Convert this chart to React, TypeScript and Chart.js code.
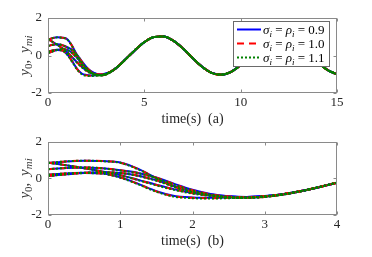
import React, { useEffect, useRef } from 'react';
import { Chart, registerables } from 'chart.js';
Chart.register(...registerables);

// ---------- data ----------
const timeS = [0, 0.25, 0.5, 0.75, 1, 1.25, 1.5, 1.75, 2, 2.25, 2.5, 2.75, 3, 3.25, 3.5, 3.75, 4,
  4.5, 5, 5.5, 6, 6.5, 7, 7.5, 8, 8.5, 9, 9.5, 10, 10.5, 11, 11.5, 12, 12.5, 13, 13.5, 14, 14.5, 15];

// converged part (t = 4.5 ... 15), shared by all agents
const tailValues = [0.27, 0.71, 0.98, 1.01, 0.79, 0.38, -0.13, -0.6, -0.93, -1.02, -0.87, -0.51,
  -0.02, 0.48, 0.86, 1.03, 0.94, 0.63, 0.16, -0.35, -0.77, -1.0];

// transient part (t = 0 ... 4), sigma_i = rho_i = 0.9
const ySigma09 = [
  [0.86, 0.72, 0.56, 0.38, 0.18, -0.08, -0.35, -0.6, -0.8, -0.93, -1.0, -1.02, -0.97, -0.86, -0.69, -0.47, -0.23],
  [0.84, 0.93, 0.97, 0.95, 0.87, 0.52, 0.02, -0.44, -0.72, -0.9, -1.01, -1.05, -1.0, -0.88, -0.7, -0.48, -0.23],
  [0.5, 0.57, 0.6, 0.55, 0.44, 0.3, 0.05, -0.3, -0.62, -0.85, -0.97, -1.02, -0.98, -0.87, -0.7, -0.48, -0.23],
  [0.2, 0.27, 0.31, 0.33, 0.3, 0.15, -0.1, -0.42, -0.7, -0.88, -0.98, -1.02, -0.98, -0.87, -0.7, -0.48, -0.23],
  [0.13, 0.22, 0.29, 0.27, 0.06, -0.3, -0.7, -0.96, -1.04, -1.06, -1.05, -1.02, -0.96, -0.86, -0.69, -0.48, -0.23],
];
// sigma_i = rho_i = 1.0
const ySigma10 = [
  [0.86, 0.72, 0.56, 0.38, 0.18, -0.09, -0.36, -0.61, -0.81, -0.94, -1.01, -1.03, -0.98, -0.86, -0.69, -0.47, -0.23],
  [0.84, 0.93, 0.97, 0.95, 0.86, 0.51, 0.01, -0.45, -0.74, -0.92, -1.03, -1.06, -1.01, -0.88, -0.7, -0.48, -0.23],
  [0.5, 0.57, 0.6, 0.55, 0.44, 0.29, 0.04, -0.32, -0.64, -0.87, -0.99, -1.03, -0.99, -0.87, -0.7, -0.48, -0.23],
  [0.2, 0.27, 0.31, 0.33, 0.3, 0.14, -0.11, -0.44, -0.72, -0.9, -1.0, -1.03, -0.99, -0.87, -0.7, -0.48, -0.23],
  [0.13, 0.22, 0.29, 0.27, 0.05, -0.31, -0.71, -0.98, -1.06, -1.08, -1.06, -1.03, -0.97, -0.86, -0.69, -0.48, -0.23],
];
// sigma_i = rho_i = 1.1
const ySigma11 = [
  [0.86, 0.72, 0.56, 0.37, 0.17, -0.1, -0.38, -0.63, -0.83, -0.96, -1.03, -1.04, -0.98, -0.86, -0.69, -0.47, -0.23],
  [0.84, 0.93, 0.97, 0.94, 0.85, 0.49, -0.01, -0.47, -0.76, -0.94, -1.05, -1.07, -1.02, -0.89, -0.7, -0.48, -0.23],
  [0.5, 0.57, 0.6, 0.55, 0.43, 0.28, 0.02, -0.34, -0.66, -0.89, -1.01, -1.05, -1.0, -0.88, -0.7, -0.48, -0.23],
  [0.2, 0.27, 0.31, 0.33, 0.29, 0.13, -0.13, -0.46, -0.74, -0.92, -1.02, -1.05, -1.0, -0.88, -0.7, -0.48, -0.23],
  [0.13, 0.22, 0.29, 0.26, 0.04, -0.33, -0.73, -1.0, -1.08, -1.1, -1.08, -1.05, -0.98, -0.87, -0.69, -0.48, -0.23],
];

const gainLabels = ['0.9', '1.0', '1.1'];
const yTicks = [-2, 0, 2];

// ---------- styling ----------
const SERIF = '"Liberation Serif", "Times New Roman", serif';
const W = 372;
const PLOT_L = 48;
const PLOT_R = 337;
const TXT = '#262626';
const FRAME = '#8a8a8a';

type Run = { t: string; font: string; dy?: number; gap?: number };

function runsWidth(ctx: CanvasRenderingContext2D, runs: Run[]) {
  let w = 0;
  for (const r of runs) {
    ctx.font = r.font;
    w += ctx.measureText(r.t).width + (r.gap || 0);
  }
  return w;
}
function drawRuns(ctx: CanvasRenderingContext2D, runs: Run[], x: number, y: number) {
  let cx = x;
  for (const r of runs) {
    ctx.font = r.font;
    ctx.fillText(r.t, cx, y + (r.dy || 0));
    cx += ctx.measureText(r.t).width + (r.gap || 0);
  }
}

const seriesStyles = [
  { rows: ySigma09, color: '#0000FF', dash: [] as number[], order: 3 },
  { rows: ySigma10, color: '#FF0000', dash: [7, 5], order: 2 },
  { rows: ySigma11, color: '#008000', dash: [2, 2], order: 1 },
];

type Opts = { xMax: number; xStep: number; title: string; legend: boolean; h: number; top: number; bottom: number };

function makeChart(canvas: HTMLCanvasElement, o: Opts) {
  const datasets: any[] = [];
  seriesStyles.forEach((s, gi) => {
    s.rows.forEach((row, ri) => {
      datasets.push({
        label: 'sigma=' + gainLabels[gi] + ' agent ' + ri,
        data: timeS.map((t, i) => ({ x: t, y: i < row.length ? row[i] : tailValues[i - row.length] })),
        borderColor: s.color,
        borderDash: s.dash,
        borderWidth: 2,
        pointRadius: 0,
        fill: false,
        cubicInterpolationMode: 'monotone',
        order: s.order,
      });
    });
  });

  const deco = {
    id: 'deco',
    afterDraw(chart: any) {
      const ctx: CanvasRenderingContext2D = chart.ctx;
      const ca = chart.chartArea;
      const xs = chart.scales.x;
      const ys = chart.scales.y;
      ctx.save();
      const L = Math.round(ca.left) + 0.5;
      const R = Math.round(ca.right) - 0.5;
      const T = Math.round(ca.top) + 0.5;
      const B = Math.round(ca.bottom) - 0.5;
      ctx.strokeStyle = FRAME;
      ctx.lineWidth = 1;
      ctx.setLineDash([]);
      ctx.beginPath();
      xs.ticks.forEach((tk: any) => {
        const px = Math.round(xs.getPixelForValue(tk.value)) + 0.5;
        ctx.moveTo(px, B); ctx.lineTo(px, B - 3);
        ctx.moveTo(px, T); ctx.lineTo(px, T + 3);
      });
      ys.ticks.forEach((tk: any) => {
        const py = Math.round(ys.getPixelForValue(tk.value)) + 0.5;
        ctx.moveTo(L, py); ctx.lineTo(L + 3, py);
        ctx.moveTo(R, py); ctx.lineTo(R - 3, py);
      });
      ctx.stroke();
      ctx.strokeRect(L, T, R - L, B - T);

      // x title
      ctx.fillStyle = TXT;
      ctx.font = '14px ' + SERIF;
      ctx.textAlign = 'center';
      ctx.textBaseline = 'middle';
      ctx.fillText(o.title, (ca.left + ca.right) / 2, ca.bottom + 26);

      // y title: y_0, y_mi
      const yRuns: Run[] = [
        { t: 'y', font: 'italic 15px ' + SERIF },
        { t: '0', font: '11px ' + SERIF, dy: 3 },
        { t: ', ', font: '15px ' + SERIF, gap: 3 },
        { t: 'y', font: 'italic 15px ' + SERIF },
        { t: 'mi', font: 'italic 11px ' + SERIF, dy: 3 },
      ];
      ctx.save();
      ctx.translate(29, (ca.top + ca.bottom) / 2);
      ctx.rotate(-Math.PI / 2);
      ctx.textAlign = 'left';
      ctx.textBaseline = 'alphabetic';
      ctx.fillStyle = '#3a3a3a';
      const yw = runsWidth(ctx, yRuns);
      drawRuns(ctx, yRuns, -yw / 2, 0);
      ctx.restore();

      if (o.legend) {
        const bx = 233.5, by = 21.5, bw = 96, bh = 45;
        ctx.fillStyle = '#ffffff';
        ctx.fillRect(bx, by, bw, bh);
        ctx.strokeStyle = '#6a6a6a';
        ctx.lineWidth = 1;
        ctx.strokeRect(bx, by, bw, bh);
        const rowY = [29.5, 43.5, 57.5];
        seriesStyles.forEach((s, i) => {
          const cy = rowY[i];
          ctx.strokeStyle = s.color;
          ctx.lineWidth = 2;
          ctx.setLineDash(s.dash);
          ctx.beginPath();
          ctx.moveTo(237, cy);
          ctx.lineTo(261, cy);
          ctx.stroke();
          ctx.setLineDash([]);
          ctx.fillStyle = '#000000';
          ctx.textAlign = 'left';
          ctx.textBaseline = 'alphabetic';
          const runs: Run[] = [
            { t: 'σ', font: 'italic 13px ' + SERIF },
            { t: 'i', font: 'italic 9px ' + SERIF, dy: 3 },
            { t: ' = ', font: '13px ' + SERIF },
            { t: 'ρ', font: 'italic 13px ' + SERIF },
            { t: 'i', font: 'italic 9px ' + SERIF, dy: 3 },
            { t: ' = ' + gainLabels[i], font: '13px ' + SERIF },
          ];
          drawRuns(ctx, runs, 263, cy + 4.5);
        });
      }
      ctx.restore();
    },
  };

  return new Chart(canvas, {
    type: 'line',
    data: { datasets },
    options: {
      responsive: false,
      animation: false,
      devicePixelRatio: 1,
      layout: { padding: { top: o.top, right: W - PLOT_R, left: 0, bottom: 0 } },
      plugins: { legend: { display: false }, tooltip: { enabled: false }, title: { display: false } },
      scales: {
        x: {
          type: 'linear',
          min: 0,
          max: o.xMax,
          ticks: { stepSize: o.xStep, color: TXT, font: { family: SERIF, size: 13 }, padding: 2, maxRotation: 0 },
          grid: { display: false, drawTicks: false },
          border: { display: false },
          afterFit: (s: any) => { s.height = o.h - o.bottom; },
        },
        y: {
          type: 'linear',
          min: yTicks[0],
          max: yTicks[yTicks.length - 1],
          ticks: { stepSize: 2, color: TXT, font: { family: SERIF, size: 13 }, padding: 6 },
          grid: { display: false, drawTicks: false },
          border: { display: false },
          afterFit: (s: any) => { s.width = PLOT_L; },
        },
      },
    } as any,
    plugins: [deco],
  });
}

export default function App() {
  const ref1 = useRef<HTMLCanvasElement>(null);
  const ref2 = useRef<HTMLCanvasElement>(null);
  useEffect(() => {
    const c1 = makeChart(ref1.current!, { xMax: 15, xStep: 5, title: 'time(s)  (a)', legend: true, h: 128, top: 18, bottom: 93 });
    const c2 = makeChart(ref2.current!, { xMax: 4, xStep: 1, title: 'time(s)  (b)', legend: false, h: 129, top: 12, bottom: 87 });
    return () => { c1.destroy(); c2.destroy(); };
  }, []);
  return (
    <div style={{ position: 'absolute', left: 0, top: 0, width: W, height: 257, background: '#ffffff' }}>
      <canvas ref={ref1} width={W} height={128} style={{ position: 'absolute', left: 0, top: 0, width: W, height: 128 }} />
      <canvas ref={ref2} width={W} height={129} style={{ position: 'absolute', left: 0, top: 128, width: W, height: 129 }} />
    </div>
  );
}
